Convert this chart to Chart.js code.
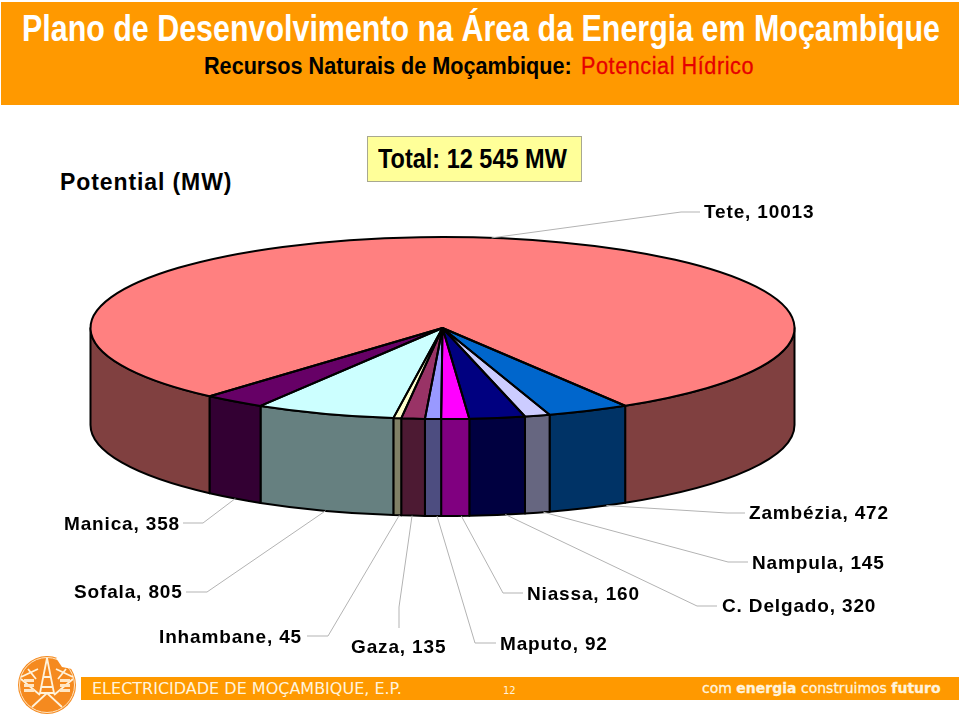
<!DOCTYPE html>
<html>
<head>
<meta charset="utf-8">
<script src="https://cdn.jsdelivr.net/npm/chart.js@4"></script>
<style>
  html, body { margin: 0; padding: 0; background: #fff; }
  #slide { position: relative; width: 960px; height: 715px; overflow: hidden; font-family: "Liberation Sans", Arial, sans-serif; }
  #slide > div, #slide > svg { position: absolute; }
  canvas { position: absolute; left: 0; top: 0; }
  .txt { white-space: nowrap; transform-origin: left top; font-weight: bold; }
  .foot { font-family: "DejaVu Sans"; font-weight: normal; color: #fff3dc; }
  #banner { left: 1px; top: 2px; width: 958px; height: 103px; background: #ff9900; }
  #footer { left: 81px; top: 677px; width: 878px; height: 23px; background: #ff9900; }
  #totalBox { left: 367px; top: 136px; width: 213px; height: 44px; background: #ffff99; border: 1px solid #a8a890; }
</style>
</head>
<body>
<div id="slide">
  <div id="banner"></div>
  <div class="txt" style="left:22px;top:8px;font-size:36px;color:#fff;transform:scaleX(0.845)">Plano de Desenvolvimento na Área da Energia em Moçambique</div>
  <div class="txt" style="left:204px;top:53px;font-size:23px;color:#000;transform:scaleX(0.94)">Recursos Naturais de Moçambique:</div>
  <div class="txt" style="left:581px;top:53px;font-size:23px;color:#e60000;font-weight:normal;letter-spacing:0.6px;transform:scaleX(0.94);-webkit-text-stroke:0.3px #e60000">Potencial Hídrico</div>
  <div id="totalBox"></div>
  <div class="txt" style="left:378px;top:144px;font-size:27px;color:#000;transform:scaleX(0.87)">Total: 12 545 MW</div>
  <div class="txt" style="left:60px;top:169px;font-size:23px;color:#000;letter-spacing:0.9px">Potential (MW)</div>
  <div id="footer"></div>
  <div class="txt foot" style="left:92px;top:679px;font-size:16px">ELECTRICIDADE DE MOÇAMBIQUE, E.P.</div>
  <div class="txt foot" style="left:503px;top:685px;font-size:10px">12</div>
  <div class="txt foot" style="left:702px;top:680px;font-size:14px;-webkit-text-stroke:0.3px #fff3dc">com <b>energia</b> construimos <b>futuro</b></div>
  <svg style="left:16px;top:655px" width="62" height="60" viewBox="0 0 62 60">
    <circle cx="31" cy="30" r="29" fill="#f58a1f"/>
    <circle cx="31" cy="30" r="27.5" fill="none" stroke="#ffe6c4" stroke-width="1"/>
    <path d="M40 3 H56 V14 L46 12 Z" fill="#fff"/>
    <g fill="none" stroke="#fff3dc" stroke-width="1.8">
      <path d="M31 3 L24 38 L38 38 Z M27 22 H35 M25 32 H37 M16 52 L31 38 L46 52"/>
      <path d="M5 22 L22 14 M57 22 L40 14 M5 24 L24 40 M57 24 L38 40 M12 14 L20 24 M50 14 L42 24"/>
    </g>
    <g fill="#ffe6c4"><rect x="8" y="24" width="10" height="3"/><rect x="8" y="29" width="10" height="3"/><rect x="8" y="34" width="10" height="3"/>
      <rect x="44" y="24" width="10" height="3"/><rect x="44" y="29" width="10" height="3"/><rect x="44" y="34" width="10" height="3"/></g>
  </svg>
  <canvas id="myChart" width="960" height="715"></canvas>
</div>
<script>
// Dados
const regions = ['Tete', 'Zambézia', 'Nampula', 'C. Delgado', 'Niassa', 'Maputo', 'Gaza', 'Inhambane', 'Sofala', 'Manica'];
const potential = [10013, 472, 145, 320, 160, 92, 135, 45, 805, 358];
const topColors = ['#ff8080', '#0066cc', '#ccccff', '#000080', '#ff00ff', '#9999ff', '#993366', '#ffffcc', '#ccffff', '#660066'];
const wallColors = ['#804040', '#003366', '#666680', '#000040', '#800080', '#4d4d80', '#4d1a33', '#808066', '#668080', '#330033'];

// Rotulos: x e y do texto, depois os pontos da linha de chamada (cotovelo e fim)
const labelLayout = [
  [704, 213, 681, 212, 700, 212],
  [749, 514, 727, 513, 745, 513],
  [752, 564, 728, 562, 748, 562],
  [722, 607, 697, 606, 717, 606],
  [527, 595, 503, 593, 523, 593],
  [500, 645, 475, 643, 496, 643],
  [351, 648, 399, 607, 399, 628],
  [159, 638, 328, 636, 307, 636],
  [74, 593, 207, 592, 186, 592],
  [64, 525, 203, 523, 183, 523]
];
// desvio em x do inicio da linha, a partir do meio da fatia
const leaderShift = [18, 18, 6, 8, 6, 4, -1, 2, 1, 1];

// Pizza "3D": achatada e com parede lateral
const centerY = 328;
const squash = 91 / 352;
const depth = 97;

function pieShape(chart) {
  const arcs = chart.getDatasetMeta(0).data;
  const a = arcs[0].getProps(['x', 'y', 'outerRadius']);
  return { arcs: arcs, cx: a.x, cy: a.y, rx: a.outerRadius, ry: a.outerRadius * squash };
}

const pie3d = {
  id: 'pie3d',
  beforeDatasetsDraw(chart) {
    const ctx = chart.ctx;
    const p = pieShape(chart);
    ctx.save();
    ctx.lineWidth = 2;
    ctx.lineJoin = 'round';
    ctx.strokeStyle = '#000';
    // paredes: so a metade da frente (0 a PI)
    p.arcs.forEach((arc, i) => {
      const start = arc.startAngle, end = arc.endAngle;
      for (let k = -1; k <= 1; k++) {
        const a0 = Math.max(start, k * 2 * Math.PI);
        const a1 = Math.min(end, k * 2 * Math.PI + Math.PI);
        if (a1 <= a0) continue;
        ctx.beginPath();
        ctx.ellipse(p.cx, centerY, p.rx, p.ry, 0, a0, a1);
        ctx.ellipse(p.cx, centerY + depth, p.rx, p.ry, 0, a1, a0, true);
        ctx.closePath();
        ctx.fillStyle = wallColors[i];
        ctx.fill();
        ctx.stroke();
      }
    });
    ctx.restore();
    // o tampo e desenhado pelo Chart.js com esta transformacao
    ctx.save();
    ctx.translate(0, centerY);
    ctx.scale(1, squash);
    ctx.translate(0, -p.cy);
  },
  afterDatasetsDraw(chart) {
    const ctx = chart.ctx;
    ctx.restore();
    const p = pieShape(chart);
    ctx.save();
    ctx.lineWidth = 2;
    ctx.lineJoin = 'round';
    ctx.strokeStyle = '#000';
    p.arcs.forEach(arc => {
      ctx.beginPath();
      ctx.moveTo(p.cx, centerY);
      ctx.ellipse(p.cx, centerY, p.rx, p.ry, 0, arc.startAngle, arc.endAngle);
      ctx.closePath();
      ctx.stroke();
    });
    ctx.restore();

    // rotulos e linhas de chamada
    ctx.save();
    ctx.font = 'bold 19px "Liberation Sans"';
    ctx.letterSpacing = '0.85px';
    ctx.textBaseline = 'middle';
    ctx.fillStyle = '#000';
    ctx.strokeStyle = '#b3b3b3';
    ctx.lineWidth = 1;
    p.arcs.forEach((arc, i) => {
      const mid = (arc.startAngle + arc.endAngle) / 2;
      const ax = p.cx + p.rx * Math.cos(mid) + leaderShift[i];
      const rel = (ax - p.cx) / p.rx;
      const h = p.ry * Math.sqrt(1 - rel * rel);
      const ay = Math.sin(mid) > 0 ? centerY + h + depth : centerY - h;
      const l = labelLayout[i];
      ctx.beginPath();
      ctx.moveTo(ax, ay);
      ctx.lineTo(l[2], l[3]);
      ctx.lineTo(l[4], l[5]);
      ctx.stroke();
      ctx.fillText(regions[i] + ', ' + potential[i], l[0], l[1]);
    });
    ctx.restore();
  }
};

const ctx = document.getElementById('myChart').getContext('2d');

new Chart(ctx, {
  type: 'pie',
  data: {
    labels: regions,
    datasets: [{
      data: potential,
      backgroundColor: topColors,
      borderWidth: 0,
      hoverOffset: 0
    }]
  },
  options: {
    responsive: false,
    animation: false,
    rotation: 221.4,
    radius: 352,
    layout: { padding: { left: 90, right: 165, top: 0, bottom: 10 } },
    plugins: {
      legend: { display: false },
      tooltip: { enabled: false }
    }
  },
  plugins: [pie3d]
});
</script>
</body>
</html>
